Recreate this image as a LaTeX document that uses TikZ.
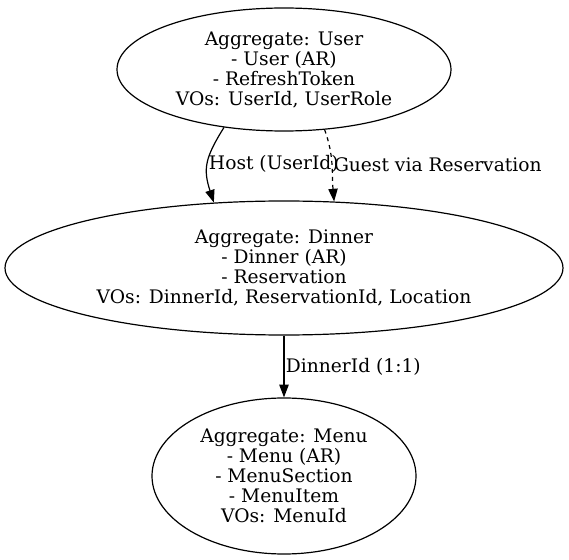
\documentclass[tikz,border=0pt]{standalone}
\usepackage{fontspec}
\setmainfont{DejaVu Serif}
\usetikzlibrary{shapes.geometric,arrows.meta,positioning}
\tikzset{agg/.style={draw,ellipse,inner sep=0pt,align=center,font=\fontsize{14}{15}\selectfont},
  lbl/.style={midway,right,inner sep=1pt,font=\fontsize{14}{15}\selectfont}}
\begin{document}
\begin{tikzpicture}[x=0.75pt,y=-0.75pt,line width=0.9pt,>={Triangle[length=9.5pt,width=7pt]}]
\useasboundingbox (0,0) rectangle (569,560);
\node[agg,minimum width=250.5pt,minimum height=92.25pt] (user) at (284,69.5)
  {Aggregate: User\\- User (AR)\\- RefreshToken\\VOs: UserId, UserRole};
\node[agg,minimum width=418.5pt,minimum height=100.5pt] (dinner) at (284,268)
  {Aggregate: Dinner\\- Dinner (AR)\\- Reservation\\VOs: DinnerId, ReservationId, Location};
\node[agg,minimum width=198pt,minimum height=117pt] (menu) at (284,476)
  {Aggregate: Menu\\- Menu (AR)\\- MenuSection\\- MenuItem\\VOs: MenuId};
\draw[->] (user.224) to[out=238,in=108,looseness=1.2] node[lbl,inner sep=0.5pt] {Host (UserId)} (dinner.137);
\draw[->,dashed] (user.304) to[out=290,in=95] node[lbl] {Guest via Reservation} (dinner.53);
\draw[->] (dinner) -- node[lbl] {DinnerId (1:1)} (menu);
\end{tikzpicture}
\end{document}
